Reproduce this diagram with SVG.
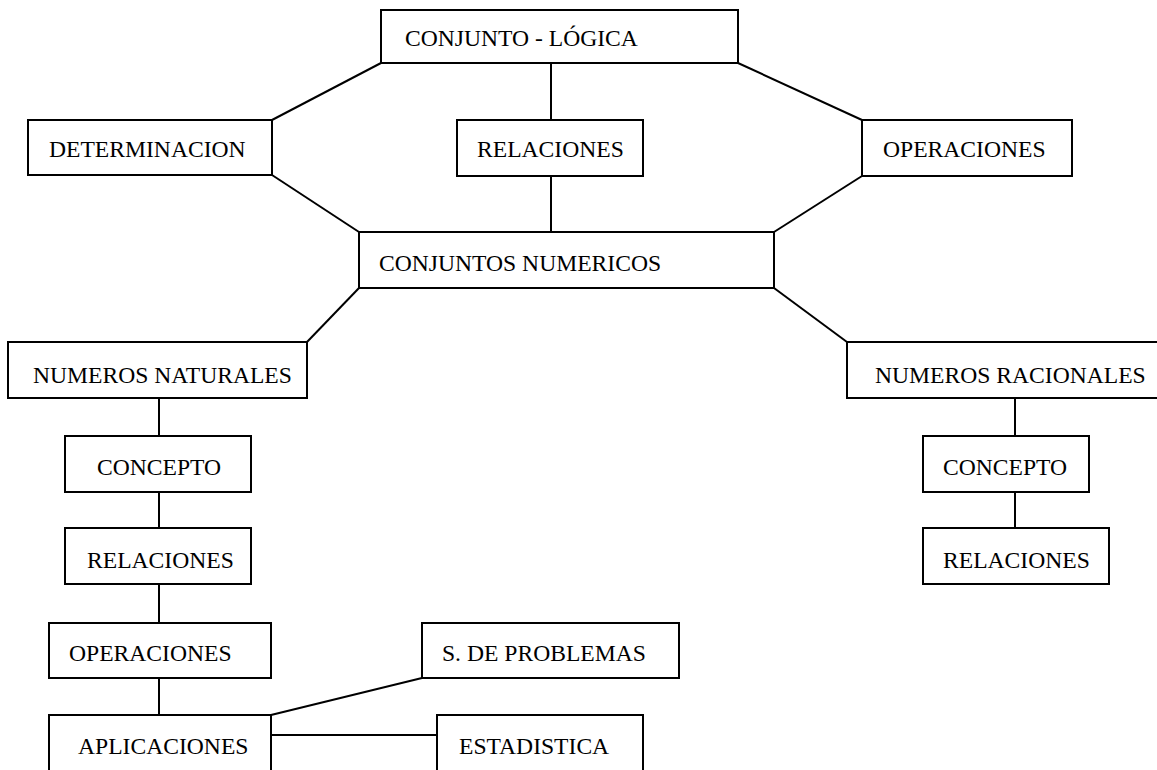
<svg xmlns="http://www.w3.org/2000/svg" width="1157" height="770" viewBox="0 0 1157 770">
  <style>
    .box { fill: #ffffff; stroke: #000000; stroke-width: 2; }
    .lbl { font-family: "Liberation Serif", "Times New Roman", serif; font-size: 23.6px; fill: #000000; }
    .link { stroke: #000000; stroke-width: 2; fill: none; }
  </style>
  <rect x="0" y="0" width="1157" height="770" fill="#ffffff"/>

  <!-- connectors -->
  <g id="connectors">
    <line class="link" x1="381" y1="63" x2="272" y2="120"/>
    <line class="link" x1="551" y1="63" x2="551" y2="120"/>
    <line class="link" x1="738" y1="63" x2="862" y2="120"/>
    <line class="link" x1="272" y1="175" x2="359" y2="232"/>
    <line class="link" x1="551" y1="176" x2="551" y2="232"/>
    <line class="link" x1="862" y1="176" x2="774" y2="232"/>
    <line class="link" x1="359" y1="288" x2="307" y2="342"/>
    <line class="link" x1="774" y1="288" x2="847" y2="342"/>
    <line class="link" x1="159" y1="398" x2="159" y2="436"/>
    <line class="link" x1="159" y1="492" x2="159" y2="528"/>
    <line class="link" x1="159" y1="584" x2="159" y2="623"/>
    <line class="link" x1="159" y1="678" x2="159" y2="715"/>
    <line class="link" x1="271" y1="715" x2="422" y2="678"/>
    <line class="link" x1="271" y1="735" x2="437" y2="735"/>
    <line class="link" x1="1015" y1="398" x2="1015" y2="436"/>
    <line class="link" x1="1015" y1="492" x2="1015" y2="528"/>
  </g>

  <g id="conjunto-logica">
    <rect class="box" x="381" y="10" width="357" height="53"/>
    <text class="lbl" x="405" y="46">CONJUNTO - LÓGICA</text>
  </g>
  <g id="determinacion">
    <rect class="box" x="28" y="120" width="244" height="55"/>
    <text class="lbl" x="49" y="157">DETERMINACION</text>
  </g>
  <g id="relaciones-top">
    <rect class="box" x="457" y="120" width="186" height="56"/>
    <text class="lbl" x="477" y="157">RELACIONES</text>
  </g>
  <g id="operaciones-top">
    <rect class="box" x="862" y="120" width="210" height="56"/>
    <text class="lbl" x="883" y="157">OPERACIONES</text>
  </g>
  <g id="conjuntos-numericos">
    <rect class="box" x="359" y="232" width="415" height="56"/>
    <text class="lbl" x="379" y="271">CONJUNTOS NUMERICOS</text>
  </g>
  <g id="numeros-naturales">
    <rect class="box" x="8" y="342" width="299" height="56"/>
    <text class="lbl" x="33" y="383">NUMEROS NATURALES</text>
  </g>
  <g id="numeros-racionales">
    <rect class="box" x="847" y="342" width="320" height="56"/>
    <text class="lbl" x="875" y="383">NUMEROS RACIONALES</text>
  </g>
  <g id="concepto-left">
    <rect class="box" x="65" y="436" width="186" height="56"/>
    <text class="lbl" x="97" y="475">CONCEPTO</text>
  </g>
  <g id="relaciones-left">
    <rect class="box" x="65" y="528" width="186" height="56"/>
    <text class="lbl" x="87" y="568">RELACIONES</text>
  </g>
  <g id="operaciones-left">
    <rect class="box" x="49" y="623" width="222" height="55"/>
    <text class="lbl" x="69" y="661">OPERACIONES</text>
  </g>
  <g id="aplicaciones">
    <rect class="box" x="49" y="715" width="222" height="70"/>
    <text class="lbl" x="78" y="754">APLICACIONES</text>
  </g>
  <g id="s-de-problemas">
    <rect class="box" x="422" y="623" width="257" height="55"/>
    <text class="lbl" x="442" y="661">S. DE PROBLEMAS</text>
  </g>
  <g id="estadistica">
    <rect class="box" x="437" y="715" width="206" height="70"/>
    <text class="lbl" x="459" y="754">ESTADISTICA</text>
  </g>
  <g id="concepto-right">
    <rect class="box" x="923" y="436" width="166" height="56"/>
    <text class="lbl" x="943" y="475">CONCEPTO</text>
  </g>
  <g id="relaciones-right">
    <rect class="box" x="923" y="528" width="186" height="56"/>
    <text class="lbl" x="943" y="568">RELACIONES</text>
  </g>
</svg>
